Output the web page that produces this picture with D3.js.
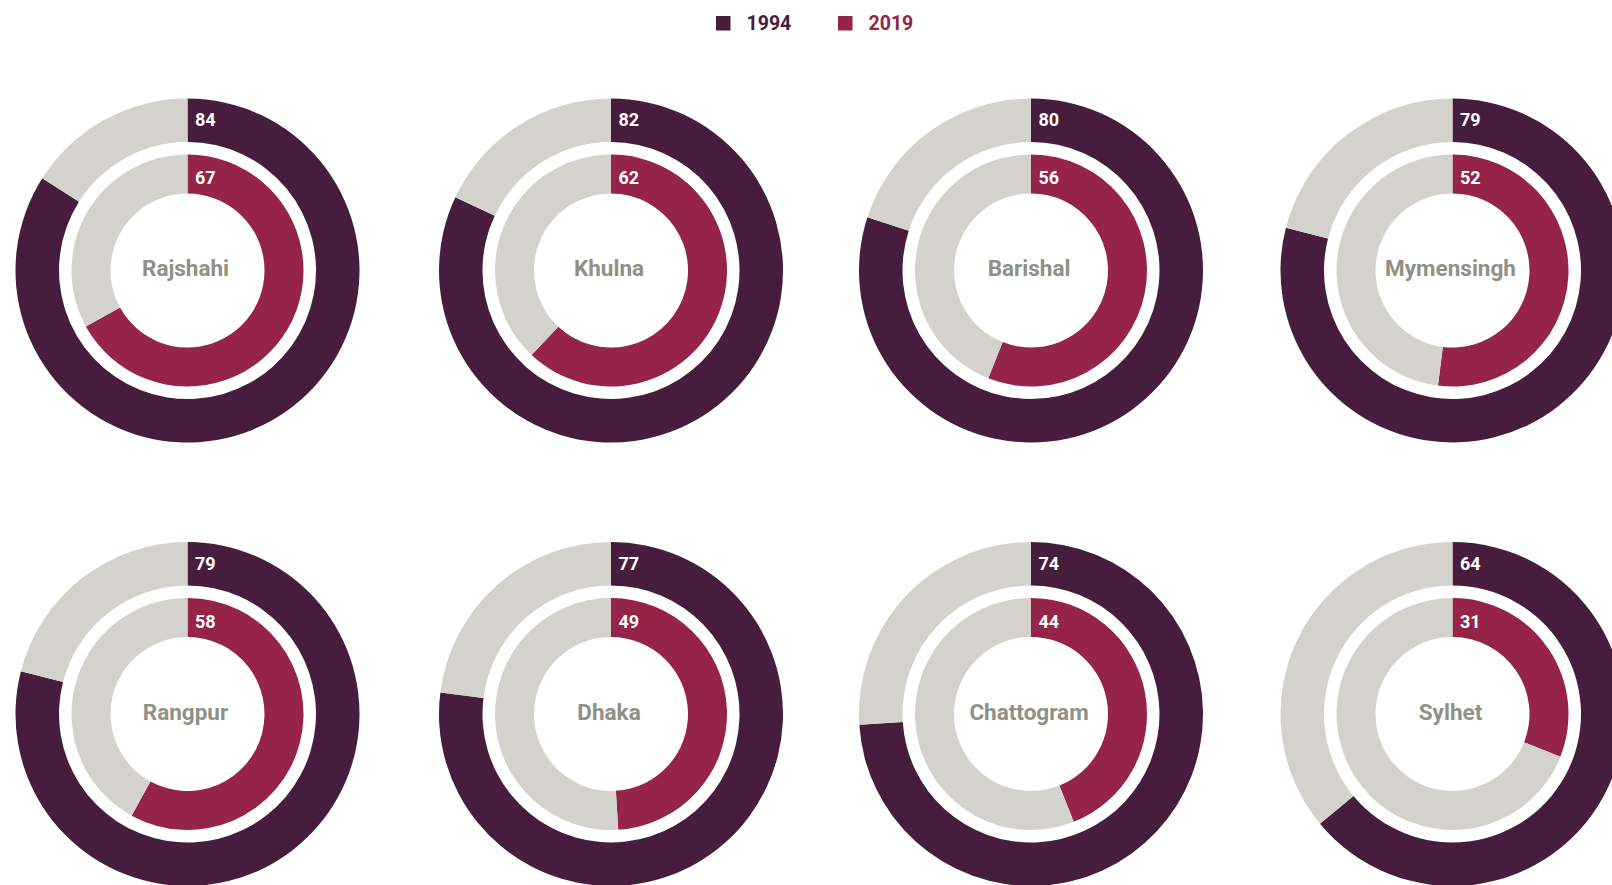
<!DOCTYPE html>
<html>
<head>
<meta charset="utf-8">
<script src="https://cdn.jsdelivr.net/npm/d3@7"></script>
<style>
  html, body { margin: 0; padding: 0; background: #ffffff; }
  svg { display: block; }
  text { font-family: Roboto, "Liberation Sans", Arial, sans-serif; font-weight: 700; }
</style>
</head>
<body>
<script>
// ---- data ----
const regions = ["Rajshahi", "Khulna", "Barishal", "Mymensingh", "Rangpur", "Dhaka", "Chattogram", "Sylhet"];
const values1994 = [84, 82, 80, 79, 79, 77, 74, 64];
const values2019 = [67, 62, 56, 52, 58, 49, 44, 31];
const seriesNames = ["1994", "2019"];

// ---- style / layout ----
const W = 1612, H = 885;
const colorDark = "#461d3d";
const colorRed = "#962348";
const colorGray = "#d3d2cd";
const colorLabel = "#8f9185";

const svg = d3.select("body").append("svg").attr("width", W).attr("height", H);

// legend
const legend = svg.append("g");
const legendItems = [
  { name: seriesNames[0], color: colorDark, x: 716 },
  { name: seriesNames[1], color: colorRed, x: 838 }
];
legendItems.forEach(d => {
  legend.append("rect").attr("x", d.x).attr("y", 16).attr("width", 14.5).attr("height", 14.5).attr("fill", d.color);
  legend.append("text").attr("x", d.x + 30.5).attr("y", 29.5)
    .attr("font-size", 19.5).attr("fill", d.color).text(d.name);
});

// grid layout
const colCenters = [187.5, 611, 1031, 1452.5];
const rowY = d3.scaleLinear().domain([0, 1]).range([270.5, 714]);

const pie = d3.pie().sort(null).value(d => d).startAngle(0).endAngle(2 * Math.PI);
const outerArc = d3.arc().innerRadius(128.5).outerRadius(172);
const innerArc = d3.arc().innerRadius(77).outerRadius(116);

regions.forEach((name, i) => {
  const cx = colCenters[i % 4], cy = rowY(Math.floor(i / 4));
  const g = svg.append("g").attr("transform", `translate(${cx},${cy})`);

  const o = [values1994[i], 100 - values1994[i]];
  g.selectAll("path.outer").data(pie(o)).join("path").attr("class", "outer")
    .attr("d", outerArc).attr("fill", (d, j) => j === 0 ? colorDark : colorGray);

  const n = [values2019[i], 100 - values2019[i]];
  g.selectAll("path.inner").data(pie(n)).join("path").attr("class", "inner")
    .attr("d", innerArc).attr("fill", (d, j) => j === 0 ? colorRed : colorGray);

  g.append("text").attr("x", 7.5).attr("y", -144.5).attr("font-size", 18).attr("fill", "#fff").text(values1994[i]);
  g.append("text").attr("x", 7.5).attr("y", -86.5).attr("font-size", 18).attr("fill", "#fff").text(values2019[i]);

  g.append("text").attr("x", -2).attr("y", -2.5).attr("dy", "0.355em").attr("text-anchor", "middle")
    .attr("font-size", 22.5).attr("fill", colorLabel).text(name);
});
</script>
</body>
</html>
